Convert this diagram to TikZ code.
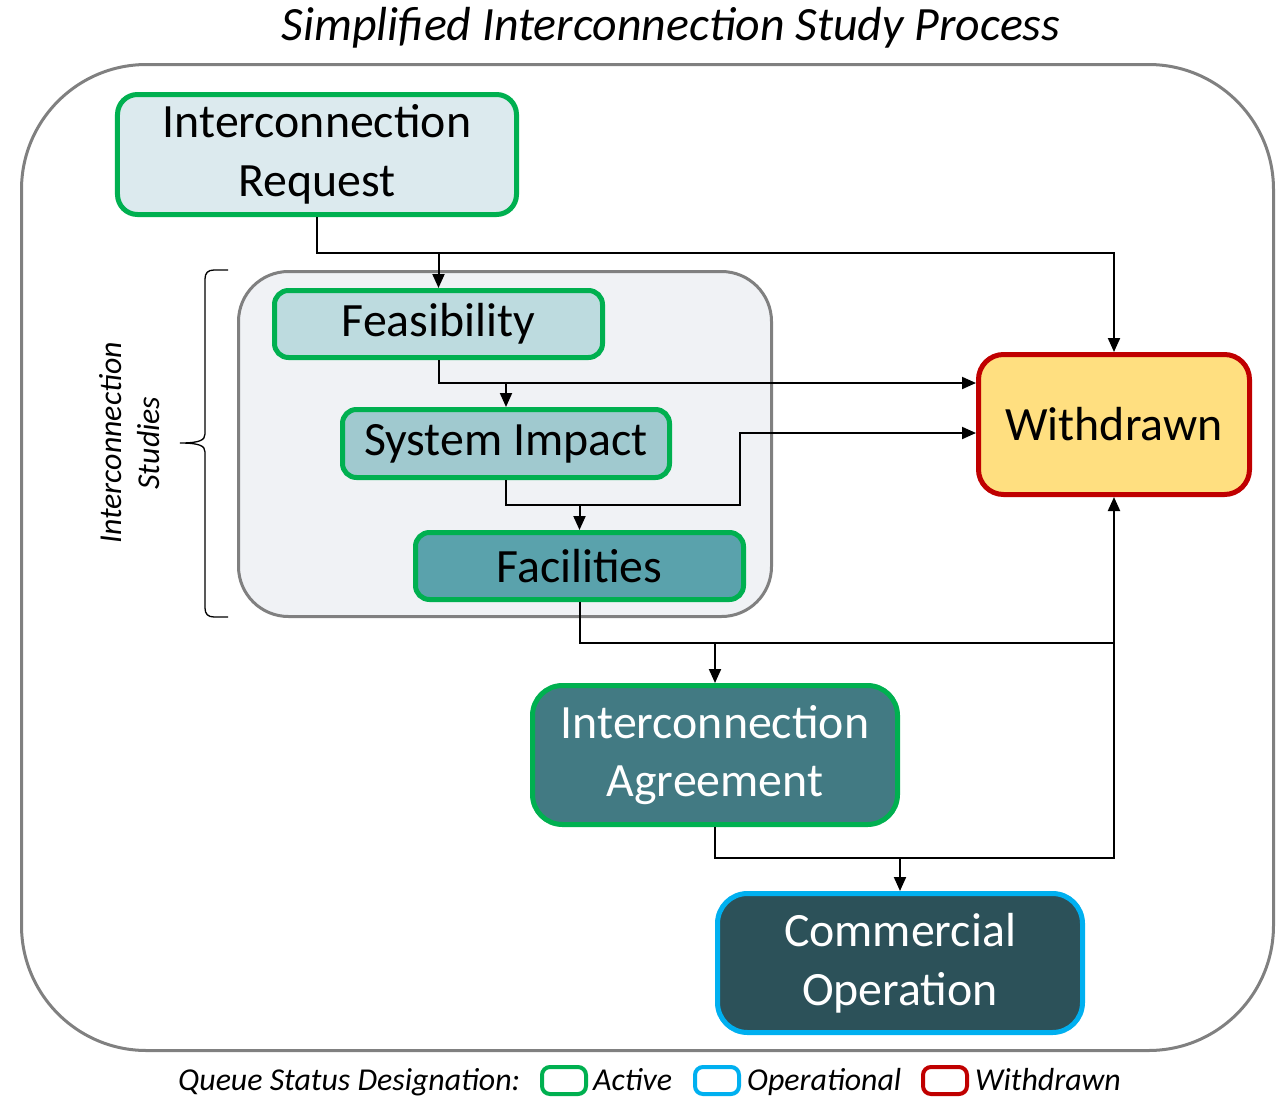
\documentclass[tikz,border=0pt]{standalone}
\usepackage{fontspec}
\setmainfont{Carlito}
\usetikzlibrary{arrows.meta}
\definecolor{actgreen}{HTML}{00B050}
\definecolor{opcyan}{HTML}{00B0F0}
\definecolor{wdred}{HTML}{C00000}
\definecolor{framegray}{HTML}{808080}
\definecolor{grpfill}{HTML}{F0F2F5}
\definecolor{reqfill}{HTML}{DCEAEE}
\definecolor{feasfill}{HTML}{BDDBDF}
\definecolor{sysfill}{HTML}{A0C9CF}
\definecolor{facfill}{HTML}{5AA2AC}
\definecolor{agrfill}{HTML}{427A83}
\definecolor{comfill}{HTML}{2C5159}
\definecolor{wdfill}{HTML}{FFDF80}
\begin{document}
\begin{tikzpicture}[x=1bp,y=-1bp,
  box/.style={draw, rounded corners=20bp, line width=5bp, inner sep=0pt, align=center,
    font=\fontsize{48}{59}\selectfont},
  arr/.style={line width=2bp, -{Triangle[length=14bp,width=12bp]}},
  conn/.style={line width=2bp},
  legtext/.style={anchor=base west, inner sep=0pt, font=\fontsize{32}{38}\selectfont\itshape},
  legbox/.style={line width=4bp, rounded corners=8bp, fill=white},
]
\useasboundingbox (0,0) rectangle (1281,1097);
% title
\node[anchor=base, inner sep=0pt, font=\fontsize{48}{58}\selectfont\itshape] (title) at (671,40) {Simplified Interconnection Study Process};
% outer frame
\draw[framegray, line width=3bp, rounded corners=125bp, fill=white] (21.5,64.5) rectangle (1273.5,1050.5);
% group frame
\draw[framegray, line width=3bp, rounded corners=50bp, fill=grpfill] (238.5,271.5) rectangle (771.5,616.5);
% brace
\draw[line width=1.3bp] (228,270) -- (214,270) .. controls (208,270) and (205,273) .. (205,279) -- (205,434)
  .. controls (205,440) and (200,443) .. (180,443)
  .. controls (200,443) and (205,446) .. (205,452) -- (205,608)
  .. controls (205,614) and (208,617) .. (214,617) -- (228,617);
\node[rotate=90, align=center, inner sep=0pt, font=\fontsize{32}{38}\selectfont\itshape] (studies) at (130,443) {Interconnection\\Studies};
% nodes
\node[box, draw=actgreen, fill=reqfill, minimum width=399bp, minimum height=120bp] (req) at (317,154.5) {Interconnection\\Request};
\node[box, draw=actgreen, fill=feasfill, minimum width=328bp, minimum height=67bp, rounded corners=14bp] (feas) at (438.5,324) {Feasibility};
\node[box, draw=actgreen, fill=sysfill, minimum width=327bp, minimum height=68bp, rounded corners=14bp] (sys) at (506,443.5) {System Impact};
\node[box, draw=actgreen, fill=facfill, minimum width=328bp, minimum height=67bp, rounded corners=14bp] (fac) at (579.5,566) {Facilities};
\node[box, draw=wdred, fill=wdfill, minimum width=271bp, minimum height=140bp, rounded corners=25bp] (wd) at (1114,424.5) {Withdrawn};
\node[box, draw=actgreen, fill=agrfill, text=white, minimum width=365bp, minimum height=139bp, rounded corners=30bp] (agr) at (715,755) {Interconnection\\Agreement};
\node[box, draw=opcyan, fill=comfill, text=white, minimum width=365bp, minimum height=139bp, rounded corners=30bp] (com) at (900,963) {Commercial\\Operation};
% junction coordinates
\coordinate (j1) at (req.south |- 0,253);
\coordinate (w1) at (wd.west |- 0,383);
\coordinate (w2) at (wd.west |- 0,433);
\coordinate (s1) at (sys.south |- 0,505);
\coordinate (s2) at (740,505);
\coordinate (f1) at (fac.south |- 0,643);
\coordinate (a1) at (agr.south |- 0,858);
% connectors
\draw[arr] (req.south) -- (j1) -| (wd.north);
\draw[arr] (j1) -| (feas.north);
\draw[arr] (feas.south) |- (w1);
\draw[arr] (feas.south |- w1) -| (sys.north);
\draw[arr] (sys.south) -- (s1) -- (s2) |- (w2);
\draw[arr] (s1) -| (fac.north);
\draw[arr] (fac.south) -- (f1) -| (wd.south);
\draw[arr] (f1) -| (agr.north);
\draw[conn] (agr.south) -- (a1) -| (f1 -| wd.south);
\draw[arr] (a1) -| (com.north);
% legend
\node[legtext] (lgt) at (178,1090) {Queue Status Designation:};
\draw[legbox, draw=actgreen] (542,1067) rectangle (586,1094);
\node[legtext] (lga) at (593,1090) {Active};
\draw[legbox, draw=opcyan] (695,1067) rectangle (739,1094);
\node[legtext] (lgo) at (747,1090) {Operational};
\draw[legbox, draw=wdred] (923,1067) rectangle (967,1094);
\node[legtext] (lgw) at (975,1090) {Withdrawn};
\end{tikzpicture}
\end{document}
